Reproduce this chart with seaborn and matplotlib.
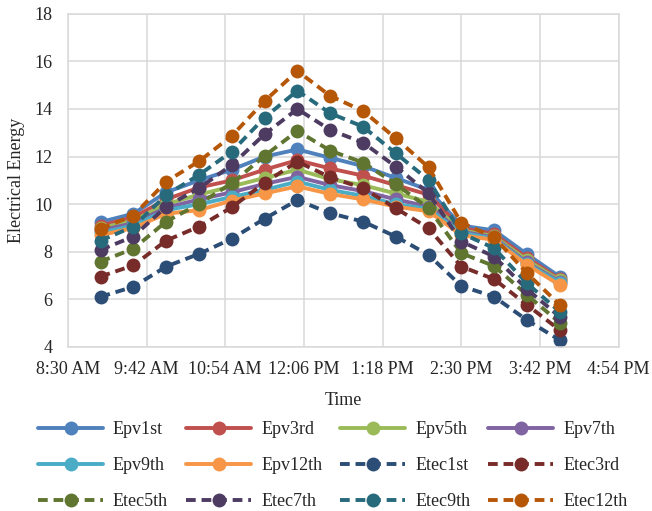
import matplotlib
matplotlib.use('Agg')
import matplotlib.pyplot as plt
import pandas as pd
import seaborn as sns

# sampling times, every 30 min from 9:00 to 16:00
times = pd.date_range('2020-01-01 09:00', '2020-01-01 16:00', freq='30min')

series_names = ['Epv1st', 'Epv3rd', 'Epv5th', 'Epv7th', 'Epv9th', 'Epv12th',
                'Etec1st', 'Etec3rd', 'Etec5th', 'Etec7th', 'Etec9th', 'Etec12th']

epv1st = [9.25, 9.6, 10.5, 11.0, 11.45, 12.0, 12.3, 11.95, 11.6, 11.1, 10.6, 9.1, 8.9, 7.9, 6.95]
epv3rd = [9.1, 9.45, 10.2, 10.7, 11.0, 11.45, 11.85, 11.5, 11.2, 10.8, 10.4, 9.0, 8.75, 7.75, 6.85]
epv5th = [9.0, 9.3, 10.0, 10.4, 10.75, 11.1, 11.45, 11.05, 10.8, 10.45, 10.1, 8.9, 8.65, 7.65, 6.8]
epv7th = [8.9, 9.2, 9.85, 10.2, 10.5, 10.85, 11.15, 10.8, 10.55, 10.2, 9.9, 8.85, 8.6, 7.55, 6.75]
epv9th = [8.8, 9.1, 9.75, 10.0, 10.3, 10.6, 10.95, 10.6, 10.35, 10.0, 9.8, 8.8, 8.55, 7.5, 6.7]
epv12th = [8.7, 9.0, 9.6, 9.75, 10.15, 10.45, 10.75, 10.43, 10.2, 9.9, 9.7, 8.7, 8.5, 7.45, 6.6]
etec1st = [6.11, 6.53, 7.38, 7.91, 8.55, 9.39, 10.17, 9.62, 9.27, 8.64, 7.87, 6.56, 6.11, 5.13, 4.29]
etec3rd = [6.96, 7.43, 8.47, 9.06, 9.87, 10.9, 11.79, 11.13, 10.67, 9.83, 8.99, 7.38, 6.85, 5.77, 4.71]
etec5th = [7.59, 8.13, 9.27, 10.01, 10.88, 12.03, 13.08, 12.25, 11.75, 10.85, 9.83, 7.94, 7.4, 6.19, 5.02]
etec7th = [8.08, 8.64, 9.9, 10.67, 11.65, 12.94, 14.0, 13.12, 12.59, 11.58, 10.46, 8.43, 7.8, 6.43, 5.27]
etec9th = [8.47, 9.06, 10.39, 11.23, 12.21, 13.64, 14.77, 13.82, 13.26, 12.14, 11.02, 8.78, 8.15, 6.68, 5.48]
etec12th = [8.97, 9.52, 10.95, 11.8, 12.87, 14.33, 15.6, 14.55, 13.92, 12.77, 11.55, 9.22, 8.61, 7.1, 5.77]

all_values = [epv1st, epv3rd, epv5th, epv7th, epv9th, epv12th,
              etec1st, etec3rd, etec5th, etec7th, etec9th, etec12th]

colors = ['#4F81BD', '#C0504D', '#9BBB59', '#8064A2', '#4BACC6', '#F79646',
          '#2C4D75', '#772C2A', '#5F7530', '#4D3B62', '#276A7C', '#B65708']

sns.set_style('white')
plt.rcParams['font.family'] = ['Liberation Serif', 'DejaVu Serif']
fs = 13

fig = plt.figure(figsize=(6.52, 5.11), dpi=100)
ax = fig.add_axes([0.104, 0.321, 0.845, 0.652])

for name, vals, col in zip(series_names, all_values, colors):
    dashed = name.startswith('Etec')
    sns.lineplot(x=times, y=vals, ax=ax, color=col, label=name,
                 marker='o', markersize=10, markeredgewidth=0,
                 linewidth=2.8, linestyle=(0, (2.5, 1.5)) if dashed else '-')

start = pd.Timestamp('2020-01-01 08:30')
end = pd.Timestamp('2020-01-01 16:54')
ticks = pd.date_range(start, end, freq='72min')
ax.set_xlim(start, end)
ax.set_xticks(ticks)
ax.set_xticklabels([f"{t.hour % 12 or 12}:{t.minute:02d} {'AM' if t.hour < 12 else 'PM'}" for t in ticks])
ax.set_ylim(4, 18)
ax.set_yticks(range(4, 19, 2))

ax.grid(True, color='#D9D9D9', linewidth=1.1)
for sp in ax.spines.values():
    sp.set_color('#D9D9D9')
    sp.set_linewidth(1.1)
ax.tick_params(axis='x', length=0, pad=10, labelsize=fs)
ax.tick_params(axis='y', length=0, pad=11, labelsize=fs)
ax.set_xlabel('Time', fontsize=fs, labelpad=10)
ax.set_ylabel('Electrical Energy', fontsize=fs, labelpad=7)

handles, labels = ax.get_legend_handles_labels()
ax.get_legend().remove()
order = [0, 4, 8, 1, 5, 9, 2, 6, 10, 3, 7, 11]
fig.legend([handles[i] for i in order], [labels[i] for i in order],
           ncol=4, loc='upper left', bbox_to_anchor=(29 / 652, 1 - 412 / 511),
           frameon=False, borderpad=0, handlelength=3.6, columnspacing=1.0,
           handletextpad=0.55, labelspacing=1.05, fontsize=fs)

fig.savefig('out.png', dpi=100)
